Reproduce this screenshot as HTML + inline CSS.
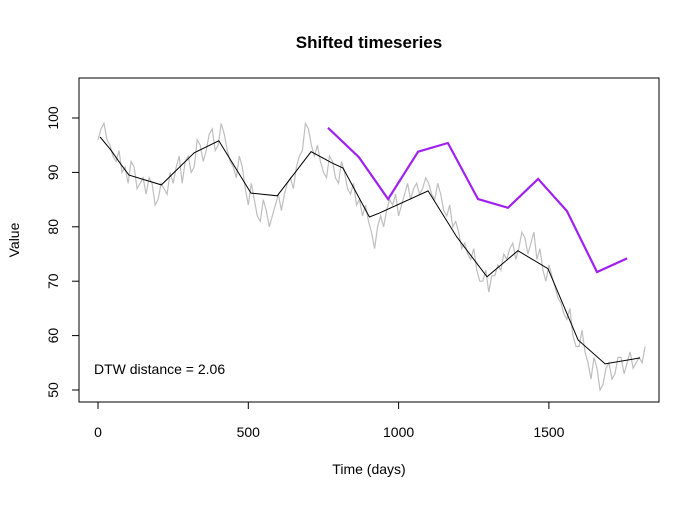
<!DOCTYPE html>
<html><head><meta charset="utf-8"><style>
body{margin:0;background:#fff}
svg text{font-family:"Liberation Sans",Arial,sans-serif}
</style></head><body>
<svg id="chart" width="700" height="500" xmlns="http://www.w3.org/2000/svg">
<rect width="700" height="500" fill="#fff"/>
<text x="369" y="48" text-anchor="middle" font-size="17" font-weight="bold">Shifted timeseries</text>
<rect x="79" y="78" width="580" height="324" fill="none" stroke="#000"/>
<text x="369" y="474" text-anchor="middle" font-size="14">Time (days)</text>
<text transform="translate(19,240) rotate(-90)" text-anchor="middle" font-size="14">Value</text>
<text x="94" y="374" font-size="14">DTW distance = 2.06</text>
<g id="axes"></g>
<g id="marks"></g>
</svg>
<script>
const xTicks=[0,500,1000,1500];
const yTicks=[50,60,70,80,90,100];
const greyStartDay=0;
const greyStepDays=10;
const greyValues=[96,98,99,96,95,93,92,94,90,91,88,92,91,87,88,89,86,89,88,84,85,88,87,86,90,88,91,93,88,92,93,90,91,96,95,92,94,97,98,94,95,99,97,94,92,91,89,93,91,87,84,88,85,82,81,85,83,80,82,84,86,83,86,88,89,87,91,93,94,99,98,95,93,95,92,90,89,93,92,89,88,92,90,87,86,88,84,85,82,84,81,79,76,80,82,80,83,85,84,86,82,84,86,88,85,87,88,86,87,89,88,86,85,88,86,83,82,84,80,81,79,76,77,75,74,76,72,70,70,72,68,71,71,73,72,75,74,76,77,74,76,79,78,75,77,79,74,76,72,70,73,71,69,67,66,64,63,65,60,58,58,61,57,55,52,56,54,50,51,54,55,52,53,56,56,53,55,57,54,55,56,55,58];
const blackDays=[7,43,76,103,211,320,402,509,596,709,780,815,903,935,1098,1194,1294,1397,1497,1597,1687,1803];
const blackValues=[96.5,94.1,91.5,89.5,87.7,93.6,95.8,86.2,85.7,93.8,91.7,90.8,81.8,82.5,86.6,78.1,70.8,75.6,72.3,59.2,54.8,55.9];
const purpleDays=[765,868,965,1065,1164,1264,1364,1464,1560,1660,1760];
const purpleValues=[98.2,92.8,85.1,93.8,95.4,85.1,83.5,88.8,82.9,71.7,74.2];

const NS="http://www.w3.org/2000/svg";
const xs=d=>98+d*(150.3/500);
const ys=v=>118+(100-v)*5.44;
const axes=document.getElementById('axes'), marks=document.getElementById('marks');
function mk(tag,attrs,parent){const e=document.createElementNS(NS,tag);for(const k in attrs)e.setAttribute(k,attrs[k]);parent.appendChild(e);return e;}
let xl=mk('line',{x1:xs(xTicks[0]),x2:xs(xTicks[xTicks.length-1]),y1:402,y2:402,stroke:'#000'},axes);


xTicks.forEach(t=>{
  const l=mk('line',{x1:xs(t),x2:xs(t),y1:402,y2:409,stroke:'#000'},axes);
  
  
  const tx=mk('text',{x:xs(t),y:437,'text-anchor':'middle','font-size':14},axes);
  tx.textContent=t;
  
  
});
let yl=mk('line',{x1:79,x2:79,y1:ys(yTicks[0]),y2:ys(yTicks[yTicks.length-1]),stroke:'#000'},axes);


yTicks.forEach(t=>{
  const l=mk('line',{x1:72,x2:79,y1:ys(t),y2:ys(t),stroke:'#000'},axes);
  
  
  const tx=mk('text',{transform:`translate(58,${ys(t)}) rotate(-90)`,'text-anchor':'middle','font-size':14},axes);
  tx.textContent=t;
  
  
});
function pts(d,v){return d.map((x,i)=>xs(x).toFixed(1)+','+ys(v[i]).toFixed(1)).join(' ');}
const greyDays=greyValues.map((_,i)=>greyStartDay+i*greyStepDays);
const g=mk('polyline',{points:pts(greyDays,greyValues),fill:'none',stroke:'#bebebe','stroke-width':1.2},marks);


const b=mk('polyline',{points:pts(blackDays,blackValues),fill:'none',stroke:'#000','stroke-width':1},marks);


const p=mk('polyline',{points:pts(purpleDays,purpleValues),fill:'none',stroke:'#a020f0','stroke-width':2.2},marks);


</script>
</body></html>
